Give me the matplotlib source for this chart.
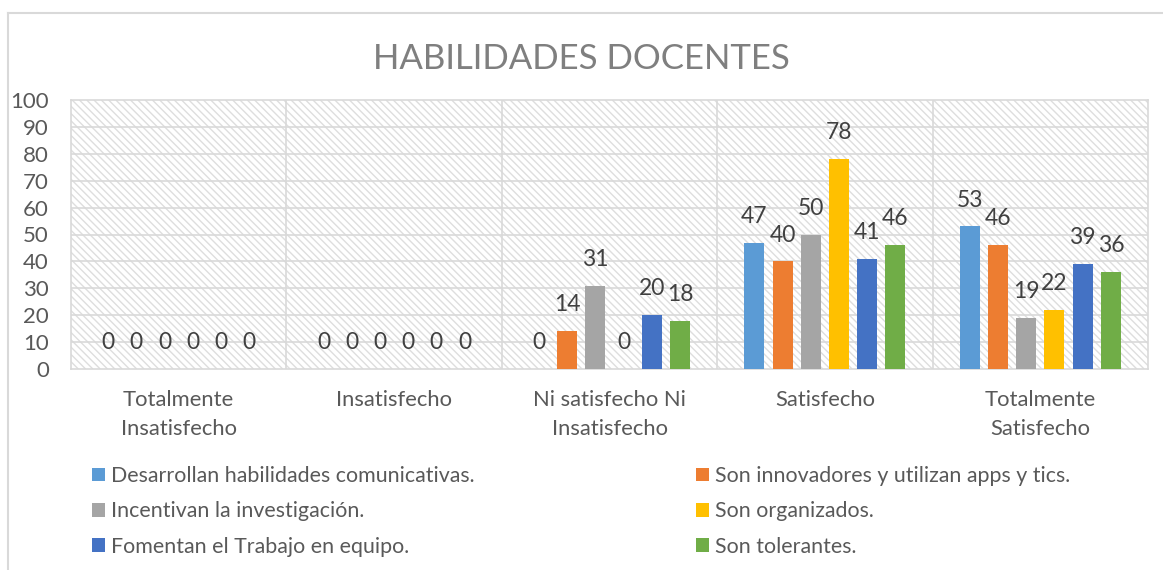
import numpy as np
import matplotlib.pyplot as plt
from matplotlib.patches import Patch
from matplotlib.lines import Line2D
from matplotlib.collections import LineCollection

plt.rcParams['font.family'] = ['Lato', 'DejaVu Sans']

categorias = ["Totalmente\nInsatisfecho", "Insatisfecho", "Ni satisfecho Ni\nInsatisfecho",
              "Satisfecho", "Totalmente\nSatisfecho"]
series = ["Desarrollan habilidades comunicativas.",
          "Son innovadores y utilizan apps y tics.",
          "Incentivan la investigación.",
          "Son organizados.",
          "Fomentan el Trabajo en equipo.",
          "Son tolerantes."]
comunicativas = [0, 0, 0, 47, 53]
innovadores = [0, 0, 14, 40, 46]
investigacion = [0, 0, 31, 50, 19]
organizados = [0, 0, 0, 78, 22]
trabajo_equipo = [0, 0, 20, 41, 39]
tolerantes = [0, 0, 18, 46, 36]
valores = [comunicativas, innovadores, investigacion, organizados, trabajo_equipo, tolerantes]
colores = ['#5B9BD5', '#ED7D31', '#A5A5A5', '#FFC000', '#4472C4', '#70AD47']

W, H = 1163, 570
fig = plt.figure(figsize=(W / 100, H / 100), dpi=100)
ax = fig.add_axes([71 / W, 1 - 369 / H, (1148 - 71) / W, (369 - 100) / H])

# patron de rayas diagonales del fondo
n_lineas = 200
paso = 7.3 / (1148 - 71)
alto = (369 - 100) / (1148 - 71)
segs = [[(k * paso - alto, 1), (k * paso, 0)] for k in range(n_lineas)]
lc = LineCollection(segs, colors='#dedede', linewidths=1.0, transform=ax.transAxes, zorder=0)
ax.add_collection(lc)

x = np.arange(len(categorias))
paso_barra = 0.131
ancho = 0.093
for j, (vals, col, nom) in enumerate(zip(valores, colores, series)):
    pos = x + (j - 2.5) * paso_barra
    bars = ax.bar(pos, vals, width=ancho, color=col, label=nom, zorder=3)
    for b, v in zip(bars, vals):
        ax.annotate(str(v), (b.get_x() + b.get_width() / 2, v), xytext=(0, 19),
                    textcoords='offset points', ha='center', va='center',
                    fontsize=16.5, color='#404040', zorder=4)

ax.set_xlim(-0.5, 4.5)
ax.set_ylim(0, 100)
ax.set_yticks(range(0, 101, 10))
ax.set_xticks(x)
ax.set_xticklabels(categorias, linespacing=1.55)
ax.tick_params(axis='both', length=0, colors='#595959')
ax.tick_params(axis='x', pad=15, labelsize=15.8)
ax.tick_params(axis='y', pad=16, labelsize=16)
for y in range(10, 100, 10):
    ax.axhline(y, color='#d9d9d9', lw=1.2, zorder=1)
for xv in np.arange(0.5, 4.5, 1):
    ax.axvline(xv, color='#d9d9d9', lw=1.2, zorder=1)
for s in ax.spines.values():
    s.set_color('#d9d9d9')
    s.set_linewidth(1.2)

fig.text(0.5, 1 - 59 / H, "HABILIDADES DOCENTES", ha='center', va='center',
         fontsize=25, color='#7f7f7f')

# borde del grafico (solo visible arriba e izquierda)
fig.add_artist(Line2D([8 / W, 8 / W], [0, 1 - 12.5 / H], color='#d9d9d9', lw=1.5,
                      transform=fig.transFigure))
fig.add_artist(Line2D([8 / W, 1], [1 - 12.5 / H, 1 - 12.5 / H], color='#d9d9d9', lw=1.5,
                      transform=fig.transFigure))

handles = [Patch(facecolor=c, edgecolor='none') for c in colores]
izq = [0, 2, 4]
der = [1, 3, 5]
for idx, xpos in ((izq, 92), (der, 696)):
    leg = fig.legend([handles[i] for i in idx], [series[i] for i in idx],
                     loc='upper left', bbox_to_anchor=(xpos / W, 1 - 466 / H),
                     frameon=False, fontsize=15.4, handlelength=0.62, handleheight=0.62,
                     handletextpad=0.25, labelspacing=0.72, borderpad=0, borderaxespad=0)
    for t in leg.get_texts():
        t.set_color('#595959')

fig.savefig('out.png', dpi=100)
